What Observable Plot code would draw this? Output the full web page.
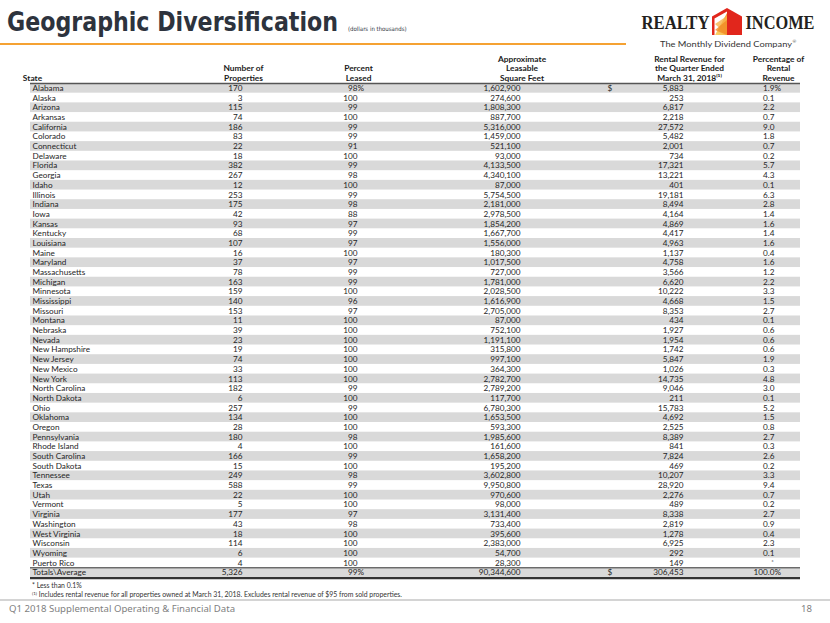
<!DOCTYPE html>
<html><head><meta charset="utf-8">
<script src="https://cdn.jsdelivr.net/npm/d3@7"></script>
<script src="https://cdn.jsdelivr.net/npm/@observablehq/plot@0.6"></script>
<style>
body{margin:0;background:#fff;}
#page{position:relative;width:830px;height:623px;overflow:hidden;font-family:Lato,sans-serif;background:#fff;}
#title{position:absolute;left:7px;top:8px;font-family:"Liberation Sans Narrow","DejaVu Sans Condensed",sans-serif;font-weight:bold;font-size:27px;line-height:1;color:#2d333d;white-space:nowrap;transform-origin:left top;}
#subtitle{position:absolute;left:348px;top:26px;font-family:"Liberation Sans Narrow","DejaVu Sans Condensed",sans-serif;font-size:6px;line-height:1;color:#2d333d;white-space:nowrap;}
#rule{position:absolute;left:0;top:42.5px;width:626px;height:2.5px;background:#f5a233;}
#logo{position:absolute;left:630px;top:0;}
#table{position:absolute;left:0;top:50px;}
.fn{position:absolute;left:32px;font-size:6.9px;line-height:1;color:#333;white-space:nowrap;}
#footrule{position:absolute;left:0;top:598.5px;width:830px;height:2px;background:#d4d4d4;}
#footer{position:absolute;left:9px;top:604px;font-family:"Noto Sans",sans-serif;font-size:9.6px;line-height:1;color:#7f7f7f;white-space:nowrap;}
#pagenum{position:absolute;right:18px;top:604px;font-family:"Noto Sans",sans-serif;font-size:9.6px;line-height:1;color:#7f7f7f;}
</style>
</head><body>
<div id="page">
  <div id="title">Geographic Diversification</div>
  <div id="subtitle">(dollars in thousands)</div>
  <div id="rule"></div>
  <svg id="logo" width="200" height="52">
    <defs>
      <linearGradient id="sun" x1="0" y1="1" x2="1" y2="0">
        <stop offset="0" stop-color="#fbd36b"/>
        <stop offset="1" stop-color="#f39a2b"/>
      </linearGradient>
    </defs>
    <text x="11.5" y="28.5" textLength="68" lengthAdjust="spacingAndGlyphs" font-family="Liberation Serif" font-size="18" font-weight="bold" fill="#231f20">REALTY</text>
    <polygon points="97,8 112,16.5 112,35 82,35 82,16.5" fill="#e1261c"/>
    <polygon points="84.5,18.5 97,11.5 97,35 84.5,35" fill="#fff"/>
    <polygon points="85,35 97,13 97,35" fill="url(#sun)"/>
    <polygon points="85,24 97,16 97,35" fill="#f7b24a" opacity="0.8"/>
    <polygon points="85,30 97,20 97,35" fill="#f08a24" opacity="0.8"/>
    <text x="115.5" y="28.5" textLength="69" lengthAdjust="spacingAndGlyphs" font-family="Liberation Serif" font-size="18" font-weight="bold" fill="#231f20">INCOME</text>
    <text x="30" y="46.5" textLength="132" lengthAdjust="spacingAndGlyphs" font-family="Lato" font-size="8" fill="#333">The Monthly Dividend Company</text>
    <text x="162.5" y="43" font-family="Lato" font-size="4.5" fill="#333">®</text>
  </svg>
  <div id="table"></div>
  <div class="fn" style="top:582px">* Less than 0.1%</div>
  <div class="fn" style="top:590.5px"><span style="font-size:4.5px;vertical-align:2px">(1)</span> Includes rental revenue for all properties owned at March 31, 2018. Excludes rental revenue of $95 from sold properties.</div>
  <div id="footrule"></div>
  <div id="footer">Q1 2018 Supplemental Operating &amp; Financial Data</div>
  <div id="pagenum">18</div>
</div>
<script>
// ---- data ----
const states = ["Alabama","Alaska","Arizona","Arkansas","California","Colorado","Connecticut","Delaware","Florida","Georgia","Idaho","Illinois","Indiana","Iowa","Kansas","Kentucky","Louisiana","Maine","Maryland","Massachusetts","Michigan","Minnesota","Mississippi","Missouri","Montana","Nebraska","Nevada","New Hampshire","New Jersey","New Mexico","New York","North Carolina","North Dakota","Ohio","Oklahoma","Oregon","Pennsylvania","Rhode Island","South Carolina","South Dakota","Tennessee","Texas","Utah","Vermont","Virginia","Washington","West Virginia","Wisconsin","Wyoming","Puerto Rico"];
const properties = [170,3,115,74,186,83,22,18,382,267,12,253,175,42,93,68,107,16,37,78,163,159,140,153,11,39,23,19,74,33,113,182,6,257,134,28,180,4,166,15,249,588,22,5,177,43,18,114,6,4];
const percentLeased = [98,100,99,100,99,99,91,100,99,98,100,99,98,88,97,99,97,100,97,99,99,100,96,97,100,100,100,100,100,100,100,99,100,99,100,100,98,100,99,100,98,99,100,100,97,98,100,100,100,100];
const squareFeet = [1602900,274600,1808300,887700,5316000,1459000,521100,93000,4133500,4340100,87000,5754500,2181000,2978500,1854200,1667700,1556000,180300,1017500,727000,1781000,2028500,1616900,2705000,87000,752100,1191100,315800,997100,364300,2782700,2789200,117700,6780300,1653500,593300,1985600,161600,1658200,195200,3602800,9950800,970600,98000,3131400,733400,395600,2383000,54700,28300];
const rentalRevenue = [5883,253,6817,2218,27572,5482,2001,734,17321,13221,401,19181,8494,4164,4869,4417,4963,1137,4758,3566,6620,10222,4668,8353,434,1927,1954,1742,5847,1026,14735,9046,211,15783,4692,2525,8389,841,7824,469,10207,28920,2276,489,8338,2819,1278,6925,292,149];
const pctRevenue = [1.9,0.1,2.2,0.7,9.0,1.8,0.7,0.2,5.7,4.3,0.1,6.3,2.8,1.4,1.6,1.4,1.6,0.4,1.6,1.2,2.2,3.3,1.5,2.7,0.1,0.6,0.6,0.6,1.9,0.3,4.8,3.0,0.1,5.2,1.5,0.8,2.7,0.3,2.6,0.2,3.3,9.4,0.7,0.2,2.7,0.9,0.4,2.3,0.1,null];
const totalsLabel = "Totals\\Average";
const totals = {properties: 5326, percentLeased: 99, squareFeet: 90344600, rentalRevenue: 306453, pctRevenue: 100.0};
const headers = ["State","Number of\nProperties","Percent\nLeased","Approximate\nLeasable\nSquare Feet","Rental Revenue for\nthe Quarter Ended\nMarch 31, 2018\u207D\u00B9\u207E","Percentage of\nRental\nRevenue"];

// ---- table build ----
const rows = states.map((s, i) => ({
  i, state: s, properties: properties[i], percentLeased: percentLeased[i],
  squareFeet: squareFeet[i], rentalRevenue: rentalRevenue[i], pctRevenue: pctRevenue[i], total: false
}));
rows.push({i: states.length, state: totalsLabel, ...totals, total: true});
const N = rows.length;

const fmt = d3.format(",");
const fmt1 = d3.format(".1f");
// layout: column anchor positions (page pixels) and alignment
const cols = [
  {key: "state", x: 32, hx: 32, anchor: "start", f: d => d.state},
  {key: "properties", x: 242, hx: 243, anchor: "end", f: d => fmt(d.properties)},
  {key: "percentLeased", x: 357, hx: 358, anchor: "end", f: d => String(d.percentLeased)},
  {key: "squareFeet", x: 520, hx: 521.5, anchor: "end", f: d => fmt(d.squareFeet)},
  {key: "rentalRevenue", x: 683, hx: 689, anchor: "end", f: d => fmt(d.rentalRevenue)},
  {key: "pctRevenue", x: 774, hx: 778, anchor: "end", f: d => d.pctRevenue == null ? "" : fmt1(d.pctRevenue)}
];
const headerRows = cols.map((c, k) => ({label: headers[k], hx: c.hx, anchor: c.anchor}));
const shaded = rows.filter(d => d.i % 2 === 0 || d.total);
const withSymbols = rows.filter(d => d.i === 0 || d.total);
const missingPct = rows.filter(d => !d.total && d.pctRevenue == null);

const textStyle = {fontSize: 8.2, fill: "#262626"};
const marks = [
  Plot.rect(shaded, {x1: 30, x2: 800, y1: d => d.i - 0.5, y2: d => d.i + 0.5, fill: "#d9d9d9"}),
  Plot.ruleY([-0.5], {x1: 30, x2: 800, stroke: "#555", strokeWidth: 1.3}),
  Plot.ruleY([N - 1.5], {x1: 30, x2: 800, stroke: "#333", strokeWidth: 1}),
  Plot.ruleY([N - 0.5], {x1: 30, x2: 800, stroke: "#333", strokeWidth: 2.4, dy: 0.6}),
  Plot.text(headerRows, {x: "hx", y: -0.5, text: "label", textAnchor: "anchor", lineAnchor: "bottom", dy: -2.5, lineHeight: 1.15, fontWeight: "bold", fontSize: 8.4, fill: "#1a1a1a"}),
  ...cols.map(c => Plot.text(rows, {x: c.x, y: "i", text: c.f, textAnchor: c.anchor, ...textStyle})),
  // % suffixes and $ signs on first row and totals
  Plot.text(withSymbols, {x: 357, y: "i", text: () => "%", textAnchor: "start", ...textStyle}),
  Plot.text(withSymbols, {x: 774, y: "i", text: () => "%", textAnchor: "start", ...textStyle}),
  Plot.text(withSymbols, {x: 607, y: "i", text: () => "$", textAnchor: "start", ...textStyle}),
  Plot.text(missingPct, {x: 772, y: "i", text: () => "*", textAnchor: "middle", fontSize: 6, fill: "#262626", dy: -1})
];

const chart = Plot.plot({
  width: 830,
  height: 530,
  margin: 0,
  style: {fontFamily: "Lato, sans-serif", background: "transparent", overflow: "visible"},
  x: {type: "linear", domain: [0, 830], range: [0, 830], axis: null},
  y: {type: "linear", domain: [-0.5, N - 0.5], range: [33, 527], axis: null},
  marks
});
document.getElementById("table").appendChild(chart);

// fit title width to reference
const t = document.getElementById("title");
const w = t.getBoundingClientRect().width;
t.style.transform = `scaleX(${331 / w})`;
</script>
</body></html>
